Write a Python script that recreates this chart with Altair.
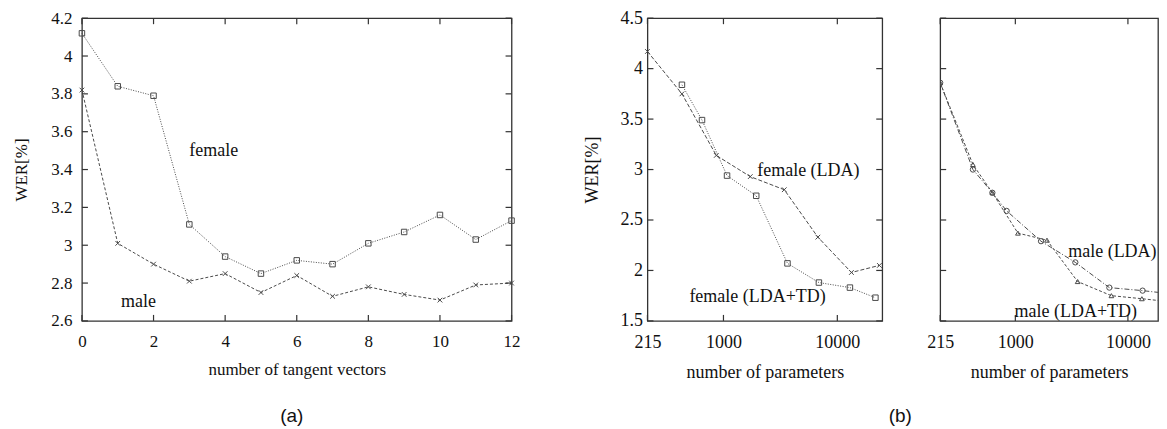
import altair as alt
import pandas as pd

# ---------------- data ----------------
tangent_vectors = list(range(13))
female_tv = [4.12, 3.84, 3.79, 3.11, 2.94, 2.85, 2.92, 2.90, 3.01, 3.07, 3.16, 3.03, 3.13]
male_tv = [3.82, 3.01, 2.90, 2.81, 2.85, 2.75, 2.84, 2.73, 2.78, 2.74, 2.71, 2.79, 2.80]

par_f_lda = [215, 432, 865, 1720, 3420, 6750, 13300, 23400]
wer_f_lda = [4.17, 3.75, 3.14, 2.93, 2.80, 2.33, 1.98, 2.05]
par_f_td = [432, 648, 1075, 1940, 3650, 6890, 12900, 21600]
wer_f_td = [3.84, 3.49, 2.94, 2.74, 2.07, 1.88, 1.83, 1.73]

par_m_lda = [215, 420, 625, 837, 1690, 3410, 6840, 13500, 23400]
wer_m_lda = [3.86, 3.00, 2.77, 2.59, 2.29, 2.08, 1.83, 1.80, 1.77]
par_m_td = [215, 420, 625, 1054, 1910, 3575, 7130, 13300, 23400]
wer_m_td = [3.86, 3.05, 2.77, 2.37, 2.30, 1.89, 1.75, 1.72, 1.69]

ticks_a_x = [0, 2, 4, 6, 8, 10, 12]
ticks_a_y = [2.6, 2.8, 3.0, 3.2, 3.4, 3.6, 3.8, 4.0, 4.2]
ticks_b_x = [215, 1000, 10000]
ticks_b_y = [1.5, 2.0, 2.5, 3.0, 3.5, 4.0, 4.5]

labels_a = ["female", "male"]
labels_a_x = [3.0, 1.09]
labels_a_y = [3.50, 2.70]
labels_b1 = ["female (LDA)", "female (LDA+TD)"]
labels_b1_x = [1980, 502]
labels_b1_y = [2.99, 1.74]
labels_b2 = ["male (LDA)", "male (LDA+TD)"]
labels_b2_x = [2950, 985]
labels_b2_y = [2.18, 1.59]

# ---------------- style ----------------
SERIF = "'Liberation Serif', 'Times New Roman', 'DejaVu Serif', serif"
SANS = "'Liberation Sans', Arial, sans-serif"
LINE = "#4a4a4a"
TXT = "#111111"
H = 303
WA, WB1, WB2 = 430, 235, 218
TICK = 6


def df_xy(xs, ys):
    return pd.DataFrame({"x": xs, "y": ys})


def panel(series, xscale, yscale, xaxis, yaxis, xticks, yticks, labels, width,
          right_ticks=True, clip=False, extra=None):
    layers = []
    X = lambda: alt.X("x:Q", scale=xscale, axis=xaxis)
    Y = lambda: alt.Y("y:Q", scale=yscale, axis=yaxis)
    for xs, ys, dash, shape, msize in series:
        base = alt.Chart(df_xy(xs, ys))
        layers.append(base.mark_line(color=LINE, strokeWidth=1, strokeDash=dash, clip=clip)
                      .encode(x=X(), y=Y()))
        layers.append(base.mark_point(shape=shape, size=msize, color=LINE, filled=False,
                                      strokeWidth=1, opacity=1, clip=clip)
                      .encode(x=X(), y=Y()))
    # inward ticks (gnuplot style)
    tx = alt.Chart(pd.DataFrame({"x": xticks}))
    layers.append(tx.mark_rule(color="#333", strokeWidth=1.2)
                  .encode(x=X(), y=alt.value(H), y2=alt.value(H - TICK)))
    layers.append(tx.mark_rule(color="#333", strokeWidth=1.2)
                  .encode(x=X(), y=alt.value(0), y2=alt.value(TICK)))
    ty = alt.Chart(pd.DataFrame({"y": yticks}))
    layers.append(ty.mark_rule(color="#333", strokeWidth=1.2)
                  .encode(y=Y(), x=alt.value(0), x2=alt.value(TICK)))
    if right_ticks:
        layers.append(ty.mark_rule(color="#333", strokeWidth=1.2)
                      .encode(y=Y(), x=alt.value(width), x2=alt.value(width - TICK)))
    txt, lx, ly = labels
    layers.append(alt.Chart(pd.DataFrame({"x": lx, "y": ly, "label": txt}))
                  .mark_text(align="left", baseline="middle", font=SERIF, fontSize=18, color=TXT)
                  .encode(x=X(), y=Y(), text="label:N"))
    if extra is not None:
        layers.append(extra)
    return alt.layer(*layers).properties(width=width, height=H)


def xaxis(values, title, size):
    return alt.Axis(values=values, title=title, ticks=False, domain=False, grid=False,
                    labelFont=SERIF, labelFontSize=size, labelColor=TXT, labelPadding=13,
                    labelFlush=False, format="d",
                    titleFont=SERIF, titleFontSize=size, titleFontWeight="normal",
                    titleColor=TXT, titlePadding=12)


def yaxis(values, title, size, pad, tpad):
    return alt.Axis(values=values, title=title, ticks=False, domain=False, grid=False,
                    labelFont=SERIF, labelFontSize=size, labelColor=TXT, labelPadding=pad,
                    labelFlush=False, format="~g",
                    titleFont=SERIF, titleFontSize=size, titleFontWeight="normal",
                    titleColor=TXT, titlePadding=tpad)


XMARK = "M-1,-1L1,1M-1,1L1,-1"

# panel (a)
sa_x = alt.Scale(domain=[0, 12], nice=False, zero=False)
sa_y = alt.Scale(domain=[2.6, 4.2], nice=False, zero=False)
cap_a = (alt.Chart(pd.DataFrame({"t": ["(a)"]}))
         .mark_text(font=SANS, fontSize=19, color=TXT, baseline="middle")
         .encode(text="t:N", x=alt.value(WA / 2 - 5), y=alt.value(398)))
pa = panel(
    [(tangent_vectors, female_tv, [1, 1.5], "square", 30),
     (tangent_vectors, male_tv, [3, 2], XMARK, 22)],
    sa_x, sa_y,
    xaxis(ticks_a_x, "number of tangent vectors", 17),
    yaxis(ticks_a_y, "WER[%]", 17, 10, 20),
    ticks_a_x, ticks_a_y, (labels_a, labels_a_x, labels_a_y), WA, extra=cap_a)

# panel (b) left
sb_x = alt.Scale(type="log", domain=[215, 24800], nice=False)
sb_y = alt.Scale(domain=[1.5, 4.5], nice=False, zero=False)
cap_b = (alt.Chart(pd.DataFrame({"t": ["(b)"]}))
         .mark_text(font=SANS, fontSize=19, color=TXT, baseline="middle")
         .encode(text="t:N", x=alt.value(253), y=alt.value(398)))
pb1 = panel(
    [(par_f_lda, wer_f_lda, [4, 2], XMARK, 22),
     (par_f_td, wer_f_td, [1, 1.5], "square", 30)],
    sb_x, sb_y,
    xaxis(ticks_b_x, "number of parameters", 18),
    yaxis(ticks_b_y, "WER[%]", 18, 5, 18),
    ticks_b_x, ticks_b_y, (labels_b1, labels_b1_x, labels_b1_y), WB1, extra=cap_b)

# panel (b) right
sb2_x = alt.Scale(type="log", domain=[215, 18500], nice=False)
pb2 = panel(
    [(par_m_lda, wer_m_lda, [5, 2, 1, 2], "circle", 28),
     (par_m_td, wer_m_td, [3, 2], "triangle-up", 22)],
    sb2_x, sb_y,
    xaxis(ticks_b_x, "number of parameters", 18),
    alt.Axis(labels=False, title=None, ticks=False, domain=False, grid=False),
    ticks_b_x, ticks_b_y, (labels_b2, labels_b2_x, labels_b2_y), WB2,
    right_ticks=False, clip=True)

chart = alt.hconcat(
    pa,
    alt.hconcat(pb1, pb2, spacing=58, bounds="flush"),
    spacing=136, bounds="flush",
).properties(
    padding={"left": 4, "top": 0, "right": 0, "bottom": 0},
    background="white",
).configure_view(stroke="#333", strokeWidth=1.3)

chart.save("out.html", embed_options={"renderer": "svg", "actions": False})
